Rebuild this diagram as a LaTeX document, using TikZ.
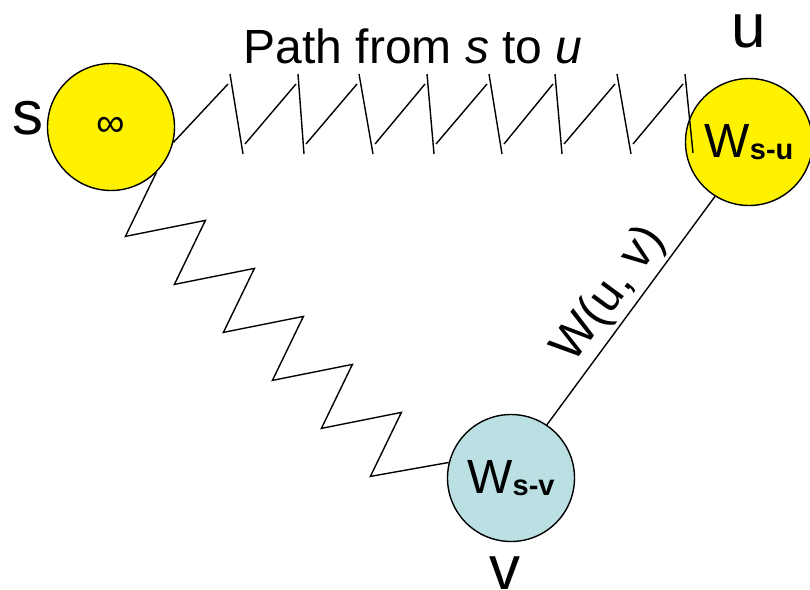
\documentclass[tikz,border=0pt]{standalone}
\usepackage{fontspec}
\setmainfont{Liberation Sans}
\definecolor{vblue}{RGB}{187,224,227}
\begin{document}
\begin{tikzpicture}[x=1pt,y=-1pt,line width=1.4pt,
  vertex/.style={circle,draw,minimum size=127pt,inner sep=0pt,font=\fontsize{48}{58}\selectfont},
  letter/.style={inner sep=0pt,anchor=base west,font=\fontsize{62}{70}\selectfont}]
\useasboundingbox (0,0) rectangle (810,589);
% vertices
\node[vertex,fill=yellow,font=\fontsize{40}{48}\selectfont] (s) at (111,127) {∞};
\node[vertex,fill=yellow] (u) at (749,142) {W\raisebox{-2pt}{\fontsize{29}{29}\selectfont\bfseries s-u}};
\node[vertex,fill=vblue] (v) at (511,478) {W\raisebox{-2pt}{\fontsize{29}{29}\selectfont\bfseries s-v}};
\node[letter] (ls) at (12,134) {s};
\node[letter] (lu) at (731,47) {u};
\node[letter,anchor=base] (lv) at (505,589) {v};
\node[inner sep=0pt,anchor=base west,font=\fontsize{48}{58}\selectfont] (title) at (243,63) {Path from \textit{s} to \textit{u}};
% path from s to u
\draw (s.-14) -- (228,84);
\foreach \x/\d/\n in {230/13/298,298/6/359,359/14/427,427/7/489,489/13/555,555/7/617,617/14/685}
  {\draw (\x,74) -- ++(\d,80);
   \draw (\x+\d+2,144) -- (\n-2,84);}
\draw (685,74) -- ++(8,79);
% path from s to v
\draw (s.-45) \foreach \i in {1,...,5} { -- ++(-31,64) -- ++(80,-16)} -- ++(-31,64) -- (v.166);
% edge (u,v)
\draw (u.238) -- (v.56) node[midway,sloped,above,font=\fontsize{48}{58}\selectfont] {W(u, v)};
\end{tikzpicture}
\end{document}
